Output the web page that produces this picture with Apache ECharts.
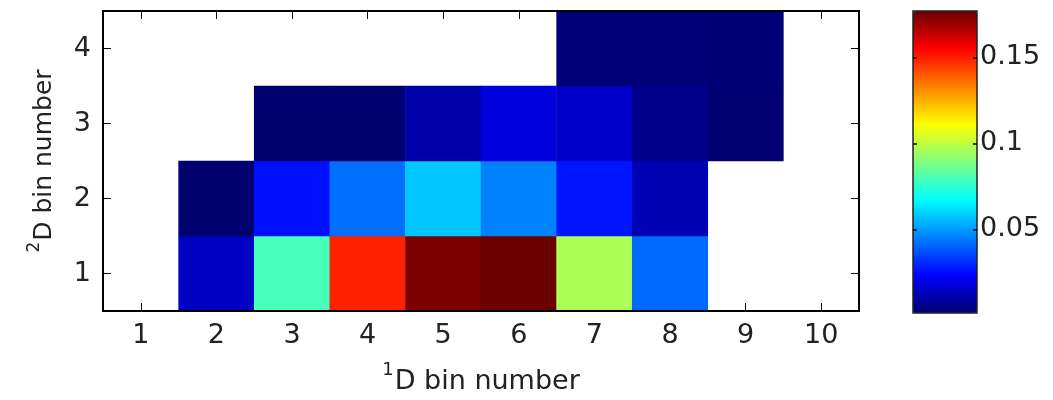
<!DOCTYPE html>
<html>
<head>
<meta charset="utf-8">
<script src="https://cdn.jsdelivr.net/npm/echarts@6/dist/echarts.min.js"></script>
<style>
  html, body { margin: 0; padding: 0; background: #fff; }
  #chart { width: 1053px; height: 400px; }
</style>
</head>
<body>
<div id="chart"></div>
<script>
// Bin labels along each axis
const xBins = ['1', '2', '3', '4', '5', '6', '7', '8', '9', '10'];
const yBins = ['1', '2', '3', '4'];

// Fraction of counts per (1D bin, 2D bin); null = empty bin
const row1 = [null, 0.0140, 0.0790, 0.1496, 0.1747, 0.1770, 0.0965, 0.0414, null, null];
const row2 = [null, 0.0013, 0.0260, 0.0422, 0.0577, 0.0456, 0.0268, 0.0117, null, null];
const row3 = [null, null, 0.0015, 0.0015, 0.0102, 0.0179, 0.0148, 0.0056, 0.0018, null];
const row4 = [null, null, null, null, null, null, 0.0025, 0.0025, 0.0022, null];

// Colour scale limits and colorbar ticks
const colorMin = 0.0013;
const colorMax = 0.177;
const colorTicks = [0.05, 0.1, 0.15];

// Jet colormap
const jet = ['#000070', '#0000ff', '#0080ff', '#00ffff', '#80ff80',
             '#ffff00', '#ff8000', '#ff0000', '#6a0000'];

const rows = [row1, row2, row3, row4];
const cells = [];
rows.forEach((row, yi) => {
  row.forEach((v, xi) => {
    if (v !== null) cells.push([xi, yi, v]);
  });
});

const FONT = 'DejaVu Sans';
const TXT = '#222';

// Axis title with a superscript prefix
function titleStyle(size, supSize, raise) {
  return {
    fontFamily: FONT, fontSize: size, color: TXT,
    rich: {
      m: { fontFamily: FONT, fontSize: size, lineHeight: size, color: TXT, verticalAlign: 'bottom' },
      sup: { fontFamily: FONT, fontSize: supSize, lineHeight: supSize, color: TXT,
             verticalAlign: 'bottom', padding: [0, 1, raise, 0] }
    }
  };
}

const chart = echarts.init(document.getElementById('chart'), null, { renderer: 'canvas' });

const tickStyle = { show: true, inside: true, length: 8, alignWithLabel: true,
                    lineStyle: { color: '#000', width: 1 } };

chart.setOption({
  animation: false,
  backgroundColor: '#fff',
  grid: [
    { left: 103, right: 194, top: 11, bottom: 88, show: true, z: 5,
      borderColor: '#000', borderWidth: 2, backgroundColor: 'transparent' },
    { left: 913, width: 64, top: 11, height: 302, show: true, z: 10,
      borderColor: '#222', borderWidth: 1.5, backgroundColor: 'transparent' }
  ],
  xAxis: [
    { type: 'category', data: xBins, gridIndex: 0, position: 'bottom',
      axisLine: { show: false }, axisTick: tickStyle, splitLine: { show: false },
      axisLabel: { fontFamily: FONT, fontSize: 27, color: TXT, margin: 11 },
      name: '{sup|1}{m|D bin number}', nameLocation: 'middle', nameGap: 57,
      nameTextStyle: titleStyle(27, 18, 16) },
    { type: 'category', data: xBins, gridIndex: 0, position: 'top',
      axisLine: { show: false }, axisTick: tickStyle, axisLabel: { show: false },
      splitLine: { show: false } },
    { type: 'value', gridIndex: 1, min: 0, max: 1, show: false }
  ],
  yAxis: [
    { type: 'category', data: yBins, gridIndex: 0, position: 'left',
      axisLine: { show: false }, axisTick: tickStyle, splitLine: { show: false },
      axisLabel: { fontFamily: FONT, fontSize: 27, color: TXT, margin: 12 },
      name: '{sup|2}{m|D bin number}', nameLocation: 'middle', nameGap: 46, nameRotate: 90,
      nameTextStyle: titleStyle(25, 17, 14) },
    { type: 'category', data: yBins, gridIndex: 0, position: 'right',
      axisLine: { show: false }, axisTick: tickStyle, axisLabel: { show: false },
      splitLine: { show: false } },
    { type: 'value', gridIndex: 1, position: 'left', min: colorMin, max: colorMax, z: 10,
      axisLine: { show: false }, splitLine: { show: false }, axisLabel: { show: false },
      axisTick: { show: true, inside: true, length: 4, customValues: colorTicks,
                  lineStyle: { color: '#000', width: 1.5 } } },
    { type: 'value', gridIndex: 1, position: 'right', min: colorMin, max: colorMax, z: 10,
      axisLine: { show: false }, splitLine: { show: false },
      axisTick: { show: true, inside: true, length: 4, customValues: colorTicks,
                  lineStyle: { color: '#000', width: 1.5 } },
      axisLabel: { show: true, customValues: colorTicks, margin: 3,
                   fontFamily: FONT, fontSize: 27, color: TXT,
                   formatter: v => String(+v.toFixed(2)) } }
  ],
  visualMap: {
    type: 'continuous', min: colorMin, max: colorMax, seriesIndex: 0,
    orient: 'vertical', left: 913, top: 11, itemWidth: 64, itemHeight: 302,
    padding: 0, calculable: false, realtime: false, text: null, showLabel: false,
    inRange: { color: jet }, hoverLink: false
  },
  series: [
    { type: 'heatmap', xAxisIndex: 0, yAxisIndex: 0, data: cells,
      itemStyle: { borderWidth: 0 }, emphasis: { disabled: true } },
    { type: 'scatter', xAxisIndex: 2, yAxisIndex: 2, data: [], silent: true }
  ]
});
</script>
</body>
</html>
